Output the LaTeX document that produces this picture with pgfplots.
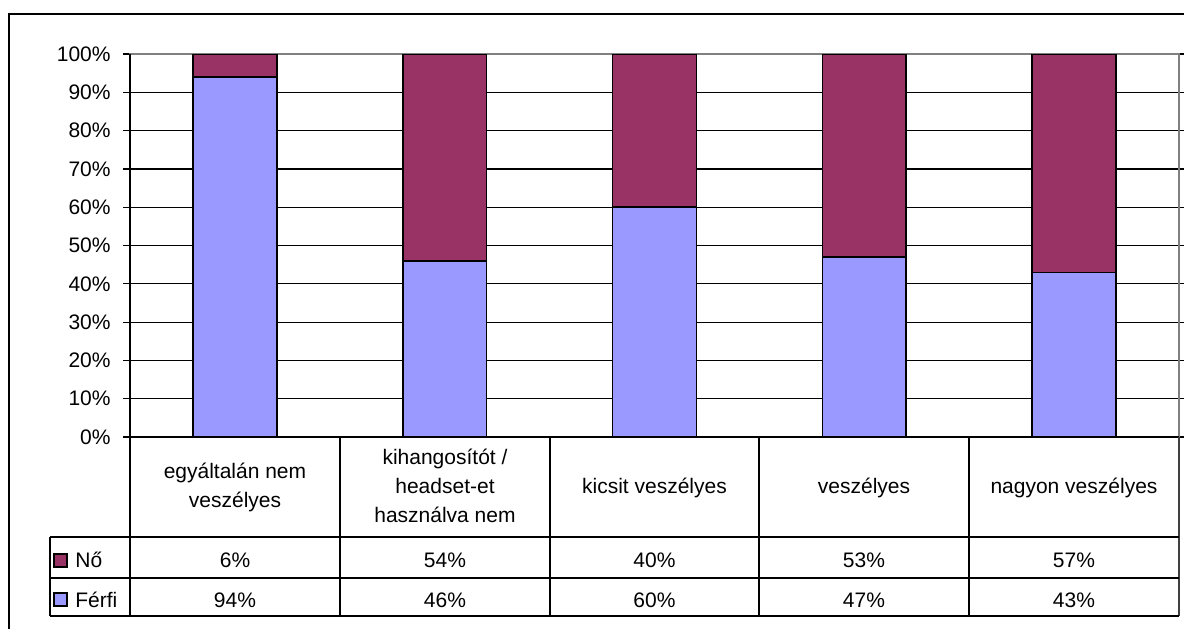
\documentclass[border=0pt]{standalone}
\usepackage{fontspec}
\setmainfont{Liberation Sans}
\usepackage{pgfplots}
\pgfplotsset{compat=1.18}
\definecolor{ferfi}{HTML}{9999FF}
\definecolor{nocol}{HTML}{993366}
\begin{document}
\fontsize{10.5}{14.5}\selectfont
\begin{tikzpicture}[x=0.5pt,y=-0.5pt]
\useasboundingbox (0,0) rectangle (1184,628);
\draw[line width=1pt] (9,640) -- (9,14) -- (1200,14);
\begin{axis}[at={(65pt,-218.5pt)}, anchor=south west, scale only axis,
  width=524.5pt, height=191.5pt,
  xmin=-0.5, xmax=4.5, ymin=0, ymax=100,
  ybar stacked, bar width=0.4,
  xtick=\empty, ytick={0,10,...,100},
  /pgf/number format/assume math mode=true,
  yticklabel={\pgfmathprintnumber{\tick}\%},
  yticklabel style={font=\fontsize{10.5}{12}\selectfont, inner sep=0pt, anchor=east, xshift=-6pt},
  ymajorgrids, major grid style={black, line width=0.6pt},
  axis line style={draw=gray, line width=0.6pt},
  tick align=outside, major tick length=3.5pt,
  ytick style={black, line width=0.6pt},
  every axis plot/.append style={draw=black, line width=0.8pt},
]
\addplot[fill=ferfi] coordinates {(0,94) (1,46) (2,60) (3,47) (4,43)};
\addplot[fill=nocol] coordinates {(0,6) (1,54) (2,40) (3,53) (4,57)};
\end{axis}
\draw[line width=1pt] (130,54) -- (130,437) -- (1179,437);
% data table
\begin{scope}[line width=0.6pt]
\foreach \xx in {130,340,550,759,969} \draw (\xx,437) -- (\xx,616);
\draw[black!75] (1179,437) -- (1179,616);
\draw (50,537) -- (1179,537);
\draw (50,578) -- (1179,578);
\draw (50,616) -- (1179,616);
\draw (50,537) -- (50,616);
\draw[fill=nocol] (54,554) rectangle (67,567);
\draw[fill=ferfi] (54,593) rectangle (67,606);
\end{scope}
\node[anchor=base west, inner sep=0pt] at (75,567) {Nő};
\node[anchor=base west, inner sep=0pt] at (75,607) {Férfi};
\node[anchor=base, inner sep=0pt] at (235,478) {egyáltalán nem};
\node[anchor=base, inner sep=0pt] at (235,507) {veszélyes};
\node[anchor=base, inner sep=0pt] at (445,464) {kihangosítót /};
\node[anchor=base, inner sep=0pt] at (445,493) {headset-et};
\node[anchor=base, inner sep=0pt] at (445,522) {használva nem};
\node[anchor=base, inner sep=0pt] at (654.5,493) {kicsit veszélyes};
\node[anchor=base, inner sep=0pt] at (864,493) {veszélyes};
\node[anchor=base, inner sep=0pt] at (1074,493) {nagyon veszélyes};
\foreach \xx/\vn/\vf in {235/6/94,445/54/46,654.5/40/60,864/53/47,1074/57/43} {
  \node[anchor=base, inner sep=0pt] at (\xx,567) {\vn\%};
  \node[anchor=base, inner sep=0pt] at (\xx,607) {\vf\%};
}
\end{tikzpicture}
\end{document}
